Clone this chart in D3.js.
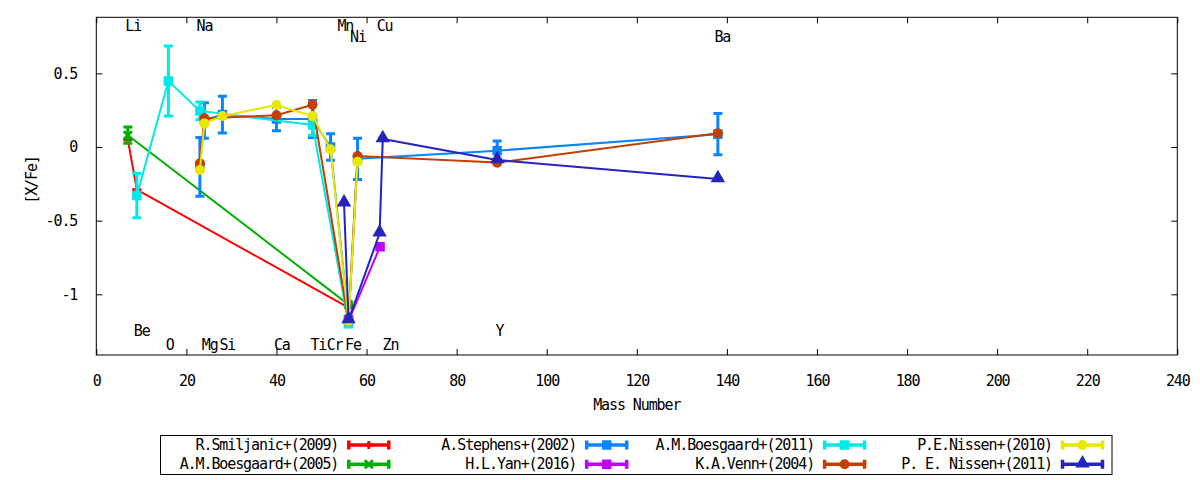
<!DOCTYPE html>
<html>
<head>
<meta charset="utf-8">
<script src="https://cdn.jsdelivr.net/npm/d3@7/dist/d3.min.js"></script>
<style>
body { margin: 0; background: #fff; }
text { font-family: "DejaVu Sans Mono", monospace; font-size: 15px; letter-spacing: -1.1px; fill: #000; }
</style>
</head>
<body>
<div id="chart"></div>
<script>
// data: [mass number, [X/Fe], error]
var smiljanic2009 = [[7, 0.05, 0], [9, -0.29, 0], [56, -1.09, 0]];
var boesgaard2005 = [[7, 0.08, 0.055], [56, -1.07, 0]];
var stephens2002 = [[23, -0.135, 0.2], [24, 0.18, 0.12], [28, 0.22, 0.125], [40, 0.19, 0.08],
    [48, 0.19, 0.125], [52, 0.0, 0.09], [56, -1.17, 0], [58, -0.08, 0.14], [89, -0.025, 0.065], [138, 0.087, 0.14]];
var yan2016 = [[56, -1.18, 0], [63, -0.677, 0]];
var boesgaard2011 = [[9, -0.33, 0.15], [16, 0.448, 0.238], [23, 0.245, 0.06], [48, 0.15, 0.07], [56, -1.2, 0]];
var venn2004 = [[23, -0.11, 0], [24, 0.195, 0], [40, 0.215, 0], [48, 0.287, 0], [56, -1.18, 0],
    [58, -0.061, 0], [89, -0.106, 0], [138, 0.093, 0]];
var nissen2010 = [[23, -0.156, 0], [24, 0.16, 0], [28, 0.21, 0], [40, 0.285, 0], [48, 0.21, 0],
    [52, -0.016, 0], [56, -1.18, 0], [58, -0.1, 0]];
var nissen2011 = [[55, -0.382, 0], [56, -1.175, 0], [62.9, -0.586, 0], [63.6, 0.054, 0],
    [89, -0.088, 0], [138, -0.217, 0]];

var seriesNames = ['R.Smiljanic+(2009)', 'A.M.Boesgaard+(2005)', 'A.Stephens+(2002)', 'H.L.Yan+(2016)',
    'A.M.Boesgaard+(2011)', 'K.A.Venn+(2004)', 'P.E.Nissen+(2010)', 'P. E. Nissen+(2011)'];
var seriesData = [smiljanic2009, boesgaard2005, stephens2002, yan2016, boesgaard2011, venn2004, nissen2010, nissen2011];

// element labels: name, mass position, [X/Fe] position
var elemNames = ['Li', 'Na', 'Mn', 'Ni', 'Cu', 'Ba', 'Be', 'O', 'Mg', 'Si', 'Ca', 'Ti', 'Cr', 'Fe', 'Zn', 'Y'];
var elemX = [8.2, 24.0, 55.3, 58.1, 64.0, 139.0, 10.1, 16.3, 25.2, 29.1, 41.2, 49.3, 52.9, 57.0, 65.3, 89.5];
var elemY = [0.82, 0.82, 0.82, 0.75, 0.82, 0.75, -1.25, -1.345, -1.345, -1.345, -1.345, -1.345, -1.345, -1.345, -1.345, -1.25];

var xTicks = [0, 20, 40, 60, 80, 100, 120, 140, 160, 180, 200, 220, 240];
var yTicks = [-1, -0.5, 0, 0.5];

// styles
var colors = ['#ff0000', '#00b000', '#0a84ff', '#c000ff', '#00e8e8', '#c04000', '#e8e800', '#2424bf'];
var markers = ['plus', 'cross', 'square', 'square', 'square', 'circle', 'circle', 'triangle'];

var W = 1200, H = 480;
var margin = { top: 17.3, left: 96.3, right: 22.7, bottom: 125 };
var width = W - margin.left - margin.right;
var height = H - margin.top - margin.bottom;

var svg = d3.select('#chart')
    .append('svg')
    .attr('width', W)
    .attr('height', H);

var g = svg.append('g')
    .attr('transform', 'translate(' + margin.left + ',' + margin.top + ')');

var x = d3.scaleLinear().domain([0, 240]).range([0, width]);
var y = d3.scaleLinear().domain([-1.412, 0.8805]).range([height, 0]);

// axes, ticks inward on all four sides
function tickAxis(axis, transform) {
    var a = g.append('g').attr('transform', transform).call(axis);
    a.select('.domain').remove();
    a.selectAll('line').attr('stroke', '#000').attr('stroke-width', 1);
    a.selectAll('text').style('font-size', '15px');
    return a;
}

var xb = tickAxis(d3.axisBottom(x).tickValues(xTicks).tickSize(-6).tickPadding(20).tickFormat(d3.format('d')),
    'translate(0,' + height + ')');
xb.selectAll('text').attr('dy', '0.7em');
tickAxis(d3.axisTop(x).tickValues(xTicks).tickSize(-6).tickFormat(''), 'translate(0,0)');
tickAxis(d3.axisLeft(y).tickValues(yTicks).tickSize(-6).tickPadding(19).tickFormat(function(d) { return String(d); }),
    'translate(0,0)');
tickAxis(d3.axisRight(y).tickValues(yTicks).tickSize(-6).tickFormat(''), 'translate(' + width + ',0)');

// plot frame
g.append('rect')
    .attr('width', width)
    .attr('height', height)
    .attr('fill', 'none')
    .attr('stroke', '#000')
    .attr('stroke-width', 1);

// axis titles
svg.append('text')
    .attr('x', margin.left + width / 2)
    .attr('y', 410)
    .attr('text-anchor', 'middle')
    .text('Mass Number');

svg.append('text')
    .attr('transform', 'translate(37,180) rotate(-90)')
    .attr('text-anchor', 'middle')
    .text('[X/Fe]');

// element labels
g.selectAll('.elem')
    .data(elemNames)
    .enter()
    .append('text')
    .attr('class', 'elem')
    .attr('x', function(d, i) { return x(elemX[i]); })
    .attr('y', function(d, i) { return y(elemY[i]); })
    .attr('text-anchor', 'middle')
    .attr('dominant-baseline', 'central')
    .text(function(d) { return d; });

function drawMarker(sel, type, color, cx, cy) {
    if (type === 'plus') {
        sel.append('path')
            .attr('d', 'M' + (cx - 4) + ',' + cy + 'H' + (cx + 4) + 'M' + cx + ',' + (cy - 4) + 'V' + (cy + 4))
            .attr('stroke', color).attr('stroke-width', 3).attr('fill', 'none');
    } else if (type === 'cross') {
        sel.append('path')
            .attr('d', 'M' + (cx - 4) + ',' + (cy - 4) + 'L' + (cx + 4) + ',' + (cy + 4) +
                'M' + (cx - 4) + ',' + (cy + 4) + 'L' + (cx + 4) + ',' + (cy - 4))
            .attr('stroke', color).attr('stroke-width', 3).attr('fill', 'none');
    } else {
        var sym = type === 'square' ? d3.symbolSquare : (type === 'circle' ? d3.symbolCircle : d3.symbolTriangle);
        var size = type === 'square' ? 90 : (type === 'circle' ? 80 : 90);
        sel.append('path')
            .attr('d', d3.symbol().type(sym).size(size)())
            .attr('transform', 'translate(' + cx + ',' + (type === 'triangle' ? cy - 1 : cy) + ')')
            .attr('fill', color);
    }
}

var line = d3.line()
    .x(function(d) { return x(d[0]); })
    .y(function(d) { return y(d[1]); });

seriesData.forEach(function(data, i) {
    var s = g.append('g').attr('class', 'series');
    var c = colors[i];

    s.append('path')
        .datum(data)
        .attr('d', line)
        .attr('fill', 'none')
        .attr('stroke', c)
        .attr('stroke-width', 2);

    // error bars
    data.forEach(function(d) {
        var px = x(d[0]), top = y(d[1] + d[2]), bot = y(d[1] - d[2]);
        s.append('path')
            .attr('d', 'M' + px + ',' + top + 'V' + bot +
                'M' + (px - 4.5) + ',' + top + 'H' + (px + 4.5) +
                'M' + (px - 4.5) + ',' + bot + 'H' + (px + 4.5))
            .attr('stroke', c)
            .attr('stroke-width', 3)
            .attr('fill', 'none');
    });

    data.forEach(function(d) {
        drawMarker(s, markers[i], c, x(d[0]), y(d[1]));
    });
});

// legend
svg.append('rect')
    .attr('x', 160.5)
    .attr('y', 435.5)
    .attr('width', 951.5)
    .attr('height', 39)
    .attr('fill', 'none')
    .attr('stroke', '#000')
    .attr('stroke-width', 1);

seriesNames.forEach(function(name, i) {
    var col = Math.floor(i / 2), row = i % 2;
    var sx = 347.3 + col * 237.9;
    var sy = row === 0 ? 445 : 464.3;
    var c = colors[i];
    var lg = svg.append('g');

    lg.append('text')
        .attr('x', sx - 9)
        .attr('y', sy)
        .attr('text-anchor', 'end')
        .attr('dominant-baseline', 'central')
        .text(name);

    lg.append('path')
        .attr('d', 'M' + sx + ',' + sy + 'H' + (sx + 43) +
            'M' + (sx + 1.5) + ',' + (sy - 4.5) + 'V' + (sy + 4.5) +
            'M' + (sx + 41.5) + ',' + (sy - 4.5) + 'V' + (sy + 4.5))
        .attr('stroke', c)
        .attr('stroke-width', 3.5)
        .attr('fill', 'none');

    drawMarker(lg, markers[i], c, sx + 21.5, sy);
});
</script>
</body>
</html>
